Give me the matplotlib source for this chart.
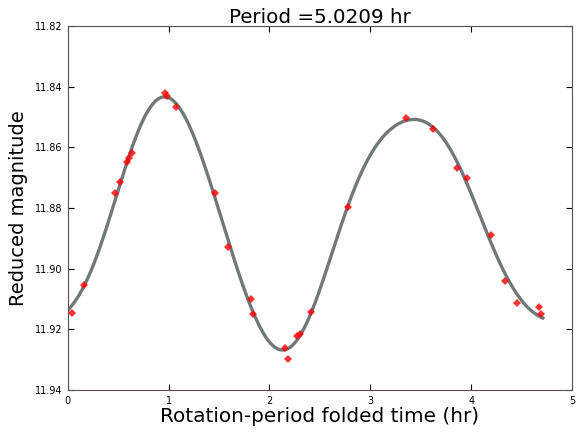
import numpy as np
import matplotlib
matplotlib.use("Agg")
import matplotlib.pyplot as plt

period = 5.0209
time_hr = [0.04, 0.16, 0.47, 0.52, 0.585, 0.61, 0.64, 0.96, 0.98, 1.07, 1.46, 1.59,
           1.815, 1.835, 2.15, 2.18, 2.27, 2.30, 2.41, 2.78, 3.35, 3.62, 3.86, 3.96,
           4.20, 4.34, 4.45, 4.67, 4.69]
mag = [11.9146, 11.9054, 11.8751, 11.8714, 11.8648, 11.8635, 11.8620, 11.8420, 11.8430,
       11.8467, 11.8750, 11.8929, 11.9100, 11.9150, 11.9260, 11.9298, 11.9222, 11.9215,
       11.9143, 11.8797, 11.8503, 11.8540, 11.8668, 11.8700, 11.8890, 11.9040, 11.9113,
       11.9126, 11.9150]
x_ticks = [0, 1, 2, 3, 4, 5]
y_ticks = [11.82, 11.84, 11.86, 11.88, 11.90, 11.92, 11.94]

# Fourier series fit (order 5) to the folded data
t = np.array(time_hr)
m = np.array(mag)
order = 5
def design(tt):
    cols = [np.ones_like(tt)]
    for k in range(1, order + 1):
        w = 2 * np.pi * k / period
        cols += [np.sin(w * tt), np.cos(w * tt)]
    return np.column_stack(cols)
coef, *_ = np.linalg.lstsq(design(t), m, rcond=None)
tf = np.linspace(0, max(time_hr) + 0.02, 400)
mf = design(tf) @ coef

fig = plt.figure(figsize=(5.79, 4.34), dpi=100)
ax = fig.add_axes([0.117, 0.101, 0.871, 0.839])
ax.plot(tf, mf, color='#707878', lw=2.4, zorder=2)
ax.plot(time_hr, mag, 'D', color='red', markersize=4.2, markeredgewidth=0, alpha=0.8, zorder=3)
ax.set_xlim(0, 5)
ax.set_ylim(11.94, 11.82)
ax.set_xticks(x_ticks)
ax.set_yticks(y_ticks)
ax.set_xticklabels([str(v) for v in x_ticks])
ax.set_yticklabels([f"{v:.2f}" for v in y_ticks])
ax.tick_params(direction='in', top=True, right=True, labelsize=7, length=4, pad=4)
for s in ax.spines.values():
    s.set_color('#5a5050')
ax.set_title('Period =5.0209 hr', fontsize=14.3, pad=2)
ax.set_xlabel('Rotation-period folded time (hr)', fontsize=14.4, labelpad=1)
ax.set_ylabel('Reduced magnitude', fontsize=14, labelpad=5)
fig.savefig('out.png', dpi=100)
